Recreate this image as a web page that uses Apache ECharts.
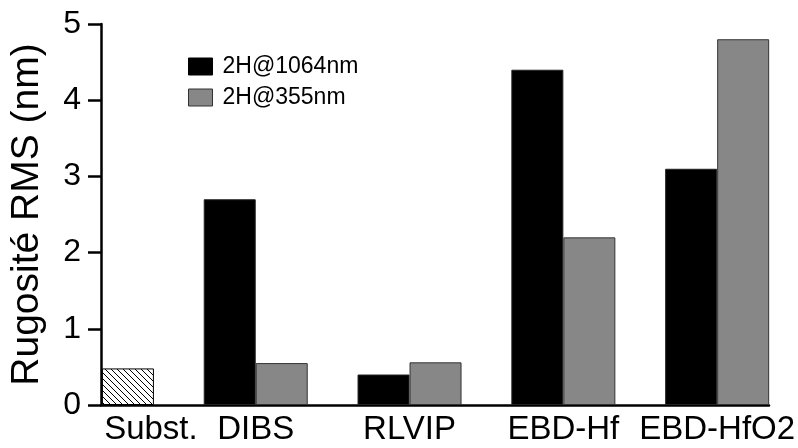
<!DOCTYPE html>
<html>
<head>
<meta charset="utf-8">
<script src="https://cdn.jsdelivr.net/npm/echarts@6/dist/echarts.min.js"></script>
<style>html,body{margin:0;padding:0;background:#fff}#c{width:798px;height:448px}</style>
</head>
<body>
<div id="c"></div>
<script>
var categories = ['Subst.', 'DIBS', 'RLVIP', 'EBD-Hf', 'EBD-HfO2'];
var series1064 = [null, 2.7, 0.4, 4.4, 3.1];
var series355 = [0.48, 0.55, 0.56, 2.2, 4.8];
var seriesNames = ['2H@1064nm', '2H@355nm'];
var yTicks = [0, 1, 2, 3, 4, 5];
var yTitle = 'Rugosité RMS (nm)';

var FONT = 'Liberation Sans, Arial, sans-serif';

// hatch pattern for the substrate bar
var pc = document.createElement('canvas');
pc.width = 6; pc.height = 6;
var g = pc.getContext('2d');
g.fillStyle = '#fff'; g.fillRect(0, 0, 6, 6);
g.strokeStyle = '#000'; g.lineWidth = 1;
g.beginPath();
g.moveTo(-1, -1); g.lineTo(7, 7);
g.moveTo(-7, -1); g.lineTo(1, 7);
g.moveTo(5, -1); g.lineTo(13, 7);
g.stroke();

var d355 = series355.map(function (v, i) {
  if (i === 0) {
    return { value: v, itemStyle: { color: { image: pc, repeat: 'repeat' }, borderColor: '#000', borderWidth: 1 } };
  }
  return v;
});
var d1064 = series1064.map(function (v) { return v === null ? '-' : v; });

// legend swatch: a 24x17 box followed by blank space before the text
var swatch = 'path://M0,0L24,0L24,17L0,17Z M29,17L29,17';

var chart = echarts.init(document.getElementById('c'), null, { renderer: 'canvas' });
chart.setOption({
  animation: false,
  backgroundColor: '#fff',
  textStyle: { fontFamily: FONT },
  legend: {
    orient: 'vertical',
    left: 188, top: 55, padding: 0,
    itemWidth: 29, itemHeight: 17, itemGap: 8,
    icon: swatch,
    textStyle: { fontSize: 23, color: '#000', fontFamily: FONT },
    data: [
      { name: seriesNames[0], itemStyle: { color: '#000', borderColor: '#000', borderWidth: 1 } },
      { name: seriesNames[1], itemStyle: { color: '#878787', borderColor: '#333', borderWidth: 1 } }
    ]
  },
  grid: [
    { left: 25, right: 3, top: 24, bottom: 43 },
    { left: 98, right: 29, top: 24, bottom: 43 }
  ],
  xAxis: [
    {
      type: 'category', gridIndex: 0, data: categories,
      axisLine: { show: false }, axisTick: { show: false },
      axisLabel: {
        color: '#000', fontSize: 33, fontFamily: FONT, margin: 8, interval: 0,
        formatter: function (v, i) { return i === 0 ? '{s|' + v + '}' : v; },
        rich: { s: { fontSize: 33, fontFamily: FONT, color: '#000', padding: [0, 0, 0, 98] } }
      }
    },
    {
      type: 'value', gridIndex: 1, min: 0, max: 1,
      axisLine: { show: true, lineStyle: { color: '#000', width: 2.5 } },
      axisTick: { show: false }, axisLabel: { show: false }, splitLine: { show: false }
    }
  ],
  yAxis: [
    {
      type: 'value', gridIndex: 0, min: yTicks[0], max: yTicks[yTicks.length - 1], interval: 1,
      show: false
    },
    {
      type: 'value', gridIndex: 1, min: yTicks[0], max: yTicks[yTicks.length - 1], interval: 1,
      name: yTitle, nameLocation: 'middle', nameGap: 54,
      nameTextStyle: { fontSize: 39, color: '#000', fontFamily: FONT },
      axisLine: { show: true, lineStyle: { color: '#000', width: 2.5 } },
      axisTick: { show: true, inside: false, length: 13, lineStyle: { color: '#000', width: 2.5 } },
      axisLabel: { color: '#000', fontSize: 32, fontFamily: FONT, margin: 20 },
      splitLine: { show: false }
    }
  ],
  series: [
    {
      name: seriesNames[0], type: 'bar', xAxisIndex: 0, yAxisIndex: 0,
      barWidth: 52, barGap: '0%',
      itemStyle: { color: '#000', borderColor: '#222', borderWidth: 1 },
      data: d1064
    },
    {
      name: seriesNames[1], type: 'bar', xAxisIndex: 0, yAxisIndex: 0,
      barWidth: 52, barGap: '0%',
      itemStyle: { color: '#878787', borderColor: '#333', borderWidth: 1 },
      data: d355
    }
  ]
});
</script>
</body>
</html>
